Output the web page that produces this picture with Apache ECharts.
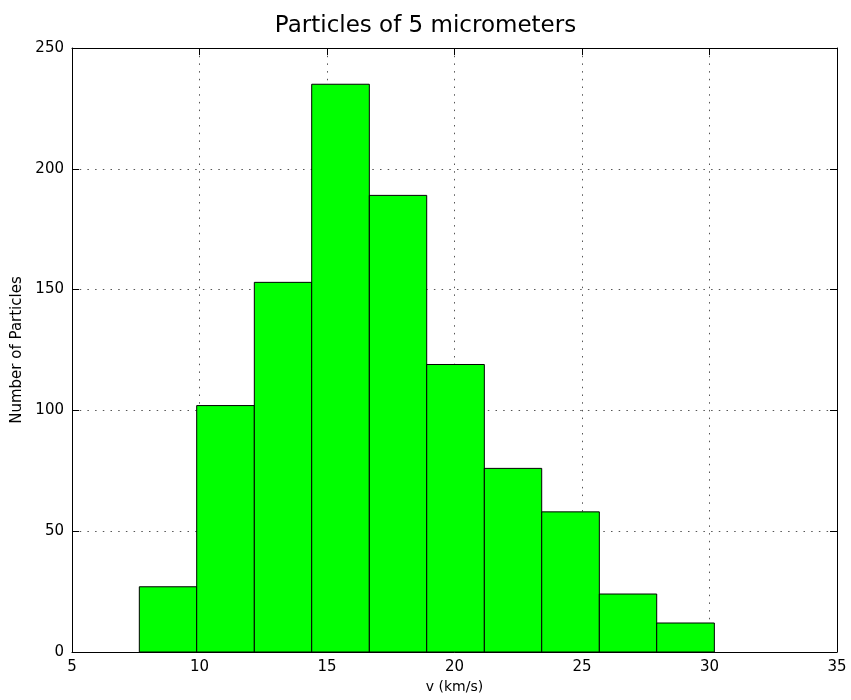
<!DOCTYPE html>
<html>
<head>
<meta charset="utf-8">
<title>Particles of 5 micrometers</title>
<script src="https://cdn.jsdelivr.net/npm/echarts@6/dist/echarts.min.js"></script>
<style>
  html, body { margin: 0; padding: 0; background: #ffffff; }
  #chart { width: 851px; height: 700px; }
</style>
</head>
<body>
<div id="chart"></div>
<script>
// Histogram bin edges (km/s) and particle counts per bin
var binEdges = [7.64, 9.89, 12.15, 14.40, 16.66, 18.91, 21.17, 23.42, 25.68, 27.93, 30.19];
var counts = [27, 102, 153, 235, 189, 119, 76, 58, 24, 12];

// Axis ticks
var xTicks = [5, 10, 15, 20, 25, 30, 35];
var yTicks = [0, 50, 100, 150, 200, 250];

var FONT = 'DejaVu Sans';

var bins = counts.map(function (c, i) {
  return [binEdges[i], binEdges[i + 1], c];
});

var gridLine = {
  show: true,
  lineStyle: { color: '#555555', width: 1, type: [1.5, 6.2] }
};

function frameAxis(base, extra) {
  var o = {
    type: 'value',
    axisLine: { show: true, onZero: false, lineStyle: { color: '#000000', width: 1 } },
    axisTick: { show: true, inside: true, length: 7, lineStyle: { color: '#000000', width: 1 } }
  };
  for (var k in base) o[k] = base[k];
  for (var k2 in extra) o[k2] = extra[k2];
  return o;
}

var xRange = { min: xTicks[0], max: xTicks[xTicks.length - 1], interval: xTicks[1] - xTicks[0] };
var yRange = { min: yTicks[0], max: yTicks[yTicks.length - 1], interval: yTicks[1] - yTicks[0] };

var chart = echarts.init(document.getElementById('chart'), null, { renderer: 'canvas' });

chart.setOption({
  animation: false,
  backgroundColor: '#ffffff',
  title: {
    text: 'Particles of 5 micrometers',
    left: 'center',
    top: 10,
    textStyle: { fontFamily: FONT, fontSize: 23, fontWeight: 'normal', color: '#000000' }
  },
  grid: { left: 72, right: 14, top: 48, bottom: 48 },
  xAxis: [
    frameAxis(xRange, {
      position: 'bottom',
      name: 'v (km/s)',
      nameLocation: 'middle',
      nameGap: 27,
      nameTextStyle: { fontFamily: FONT, fontSize: 14, color: '#000000' },
      axisLabel: { fontFamily: FONT, fontSize: 15, color: '#000000', margin: 8 },
      splitLine: gridLine
    }),
    frameAxis(xRange, {
      position: 'top',
      axisLabel: { show: false },
      splitLine: { show: false }
    })
  ],
  yAxis: [
    frameAxis(yRange, {
      position: 'left',
      name: 'Number of Particles',
      nameLocation: 'middle',
      nameGap: 42,
      nameTextStyle: { fontFamily: FONT, fontSize: 15, color: '#000000' },
      axisLabel: { fontFamily: FONT, fontSize: 15, color: '#000000', margin: 8 },
      splitLine: gridLine
    }),
    frameAxis(yRange, {
      position: 'right',
      axisLabel: { show: false },
      splitLine: { show: false }
    })
  ],
  series: [{
    type: 'custom',
    xAxisIndex: 0,
    yAxisIndex: 0,
    data: bins,
    encode: { x: [0, 1], y: 2 },
    renderItem: function (params, api) {
      var topLeft = api.coord([api.value(0), api.value(2)]);
      var bottomRight = api.coord([api.value(1), 0]);
      return {
        type: 'rect',
        shape: {
          x: topLeft[0],
          y: topLeft[1],
          width: bottomRight[0] - topLeft[0],
          height: bottomRight[1] - topLeft[1]
        },
        style: { fill: '#00ff00', stroke: '#000000', lineWidth: 1 }
      };
    }
  }]
});
</script>
</body>
</html>
